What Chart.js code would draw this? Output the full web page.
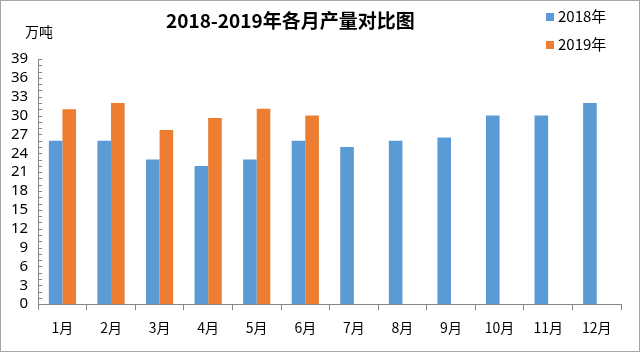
<!DOCTYPE html>
<html>
<head>
<meta charset="utf-8">
<script src="https://cdn.jsdelivr.net/npm/chart.js@4.4.0/dist/chart.umd.min.js"></script>
<style>
  body { margin: 0; background: #fff; }
  #wrap { position: relative; width: 640px; height: 352px; box-sizing: border-box; border: 1px solid #a6a6a6; }
  #wrap canvas { position: absolute; left: 0; top: 0; }
  .txt { position: absolute; font-family: "Noto Sans CJK SC", "Noto Sans", sans-serif; color: #000; white-space: nowrap; }
  #title { left: 165px; top: 5px; font-size: 19px; font-weight: bold; }
  #unit { left: 24px; top: 20px; font-size: 14px; }
  .leg { left: 545px; font-size: 15px; }
  .leg span { display: inline-block; width: 8px; height: 8px; margin-right: 4px; vertical-align: 1px; }
</style>
</head>
<body>
<div id="wrap">
  <canvas id="myChart" width="638" height="350"></canvas>
  <div class="txt" id="title">2018-2019年各月产量对比图</div>
  <div class="txt" id="unit">万吨</div>
  <div class="txt leg" style="top:4px"><span style="background:#5b9bd5"></span>2018年</div>
  <div class="txt leg" style="top:32px"><span style="background:#ed7d31"></span>2019年</div>
</div>
<script>
const months = ["1月", "2月", "3月", "4月", "5月", "6月", "7月", "8月", "9月", "10月", "11月", "12月"];
const prod2018 = [26, 26, 23, 22, 23, 26, 25, 26, 26.5, 30, 30, 32];
const prod2019 = [31, 32, 27.7, 29.6, 31.1, 30, null, null, null, null, null, null];
const yMax = 39;
const yStep = 3;

// petits traits de graduation sur l'axe Y (toutes les unites)
const minorTicks = {
    id: "minorTicks",
    afterDraw(chart) {
        const ctx = chart.ctx;
        const y = chart.scales.y;
        const left = chart.chartArea.left;
        ctx.save();
        ctx.strokeStyle = "#868686";
        ctx.lineWidth = 1;
        for (let v = 0; v <= yMax; v++) {
            const py = Math.round(y.getPixelForValue(v)) + 0.5;
            ctx.beginPath();
            ctx.moveTo(left, py);
            ctx.lineTo(left + 4, py);
            ctx.stroke();
        }
        ctx.restore();
    }
};

const canvas = document.getElementById("myChart");
const ctx = canvas.getContext("2d");

const chart = new Chart(ctx, {
    type: "bar",
    data: {
        labels: months,
        datasets: [
            { label: "2018年", data: prod2018, backgroundColor: "#5b9bd5" },
            { label: "2019年", data: prod2019, backgroundColor: "#ed7d31" }
        ]
    },
    options: {
        responsive: false,
        animation: false,
        layout: { padding: { top: 58, right: 18, left: 0, bottom: 6 } },
        datasets: { bar: { categoryPercentage: 0.56, barPercentage: 1.0 } },
        plugins: {
            legend: { display: false },
            tooltip: { enabled: false }
        },
        scales: {
            x: {
                grid: { drawOnChartArea: false, tickLength: 6, color: "#868686" },
                border: { color: "#868686" },
                ticks: { color: "#000", font: { family: "Noto Sans CJK SC", size: 14 }, padding: 9 }
            },
            y: {
                min: 0,
                max: yMax,
                grid: { display: false, drawTicks: false },
                border: { color: "#868686" },
                ticks: { stepSize: yStep, autoSkip: false, color: "#000", font: { family: "Noto Sans", size: 15 }, padding: 10 }
            }
        }
    },
    plugins: [minorTicks]
});
</script>
</body>
</html>
